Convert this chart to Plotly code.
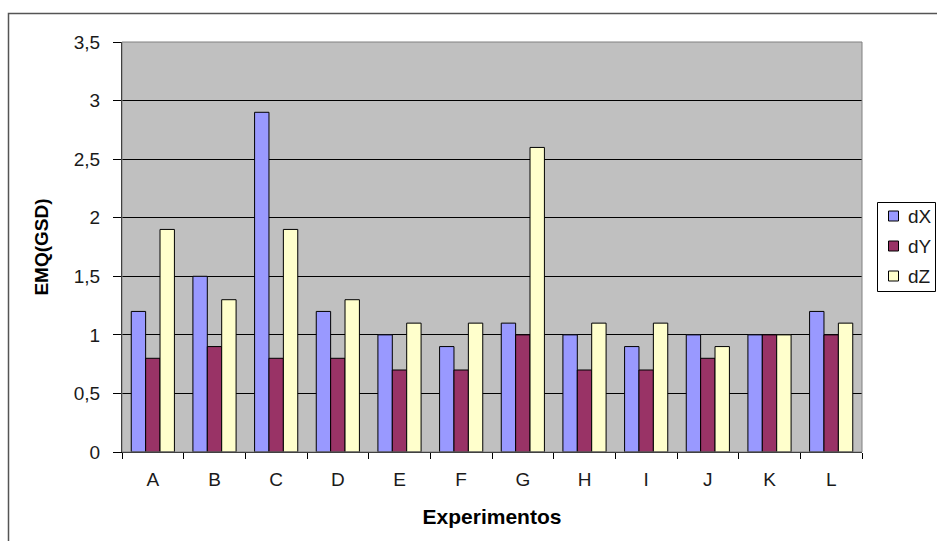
import plotly.graph_objects as go

# Experiment labels and error values (EMQ in GSD units) per axis component
experimentos = ["A", "B", "C", "D", "E", "F", "G", "H", "I", "J", "K", "L"]
dX = [1.2, 1.5, 2.9, 1.2, 1.0, 0.9, 1.1, 1.0, 0.9, 1.0, 1.0, 1.2]
dY = [0.8, 0.9, 0.8, 0.8, 0.7, 0.7, 1.0, 0.7, 0.7, 0.8, 1.0, 1.0]
dZ = [1.9, 1.3, 1.9, 1.3, 1.1, 1.1, 2.6, 1.1, 1.1, 0.9, 1.0, 1.1]

series = [("dX", dX, "#9999FF"), ("dY", dY, "#993366"), ("dZ", dZ, "#FFFFCC")]

FONT = "Liberation Sans, Arial, sans-serif"
TEXT = "#1a1a1a"

fig = go.Figure()
for name, vals, color in series:
    fig.add_trace(go.Bar(
        x=experimentos, y=vals, name=name, showlegend=False,
        marker=dict(color=color, line=dict(color="#000000", width=1)),
    ))

# Plot-area geometry in pixels, used to place the frame and legend
L, R, T, B = 122, 75, 42, 89
W, H = 937 - L - R, 541 - T - B

def px_x(p):
    return (p - L) / W

def px_y(p):
    return (541 - B - p) / H

shapes = [
    # thin grey outline around the plot area
    dict(type="rect", xref="paper", yref="paper", x0=0, x1=1, y0=0, y1=1,
         line=dict(color="#808080", width=1), fillcolor="rgba(0,0,0,0)",
         layer="above"),
    # outer chart frame
    dict(type="rect", xref="paper", yref="paper",
         x0=px_x(8.5), x1=px_x(960), y0=px_y(560), y1=px_y(13.5),
         line=dict(color="#555555", width=1.5), fillcolor="rgba(0,0,0,0)"),
    # legend box
    dict(type="rect", xref="paper", yref="paper",
         x0=px_x(877.5), x1=px_x(935.5), y0=px_y(291.5), y1=px_y(202.5),
         line=dict(color="#000000", width=1), fillcolor="#FFFFFF"),
]
annotations = []

# compact legend: colour swatch + series name for each trace
for i, (name, _, color) in enumerate(series):
    cy = 216 + 30 * i
    shapes.append(dict(
        type="rect", xref="paper", yref="paper",
        x0=px_x(888.5), x1=px_x(898.5), y0=px_y(cy + 5), y1=px_y(cy - 5),
        line=dict(color="#000000", width=1), fillcolor=color,
    ))
    annotations.append(dict(
        xref="paper", yref="paper", x=px_x(906), y=px_y(cy),
        xanchor="left", yanchor="middle", showarrow=False,
        text=name, font=dict(family=FONT, size=19, color=TEXT),
    ))

fig.update_layout(
    width=937, height=541,
    margin=dict(l=L, r=R, t=T, b=B, pad=0, autoexpand=False),
    paper_bgcolor="#FFFFFF",
    plot_bgcolor="#C0C0C0",
    separators=",.",
    barmode="group",
    bargap=0.3,
    bargroupgap=0,
    font=dict(family=FONT, size=19, color=TEXT),
    showlegend=False,
    xaxis=dict(
        type="category",
        tickson="boundaries",
        ticks="outside", ticklen=6, tickcolor="#000000", tickwidth=1,
        showline=True, linecolor="#000000", linewidth=1,
        showgrid=False, zeroline=False,
        ticklabelstandoff=10,
        tickfont=dict(family=FONT, size=19, color=TEXT),
        title=dict(text="<b>Experimentos</b>", standoff=20,
                   font=dict(family=FONT, size=21, color="#000000")),
    ),
    yaxis=dict(
        range=[0, 3.5],
        tick0=0, dtick=0.5,
        ticks="outside", ticklen=8, tickcolor="#000000", tickwidth=1,
        showline=True, linecolor="#000000", linewidth=1,
        showgrid=True, gridcolor="#000000", gridwidth=1,
        zeroline=False,
        ticklabelstandoff=9,
        tickfont=dict(family=FONT, size=19, color=TEXT),
        title=dict(text="<b>EMQ(GSD)</b>", standoff=20,
                   font=dict(family=FONT, size=19, color="#000000")),
    ),
    shapes=shapes,
    annotations=annotations,
)

fig.write_html("out.html")
